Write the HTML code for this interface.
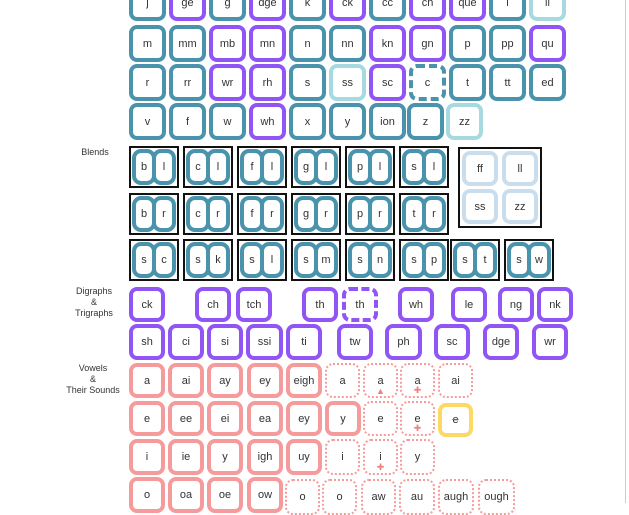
<!DOCTYPE html>
<html><head><meta charset="utf-8"><style>
body{margin:0;width:629px;height:503px;overflow:hidden;background:#fff;position:relative;font-family:"Liberation Sans",sans-serif}
.t{position:absolute;width:37px;height:37px;box-sizing:border-box;border:4px solid #4a93ad;border-radius:8px;display:flex;align-items:center;justify-content:center;font-size:11px;color:#333;background:#fff}
.p{border-color:#9155f5}.l{border-color:#a6d9e0}.d{border-style:dashed}
.k{border-color:#f59b9b}.o{border:2px dotted #f59b9b}.y{border-color:#fdd864}
.b{position:absolute;width:50px;height:42px;box-sizing:border-box;border:2px solid #111;background:#fff}
.b i{position:absolute;top:1px;width:24px;height:36px;box-sizing:border-box;border:4px solid #4a93ad;border-radius:9px;font-style:normal;font-size:11px;color:#333;display:flex;align-items:center;justify-content:center}
.b i:first-child{left:1px}.b i:last-child{left:21px}
.lb{position:absolute;font-size:9px;color:#333;text-align:center;line-height:11px}
.m{position:absolute;left:50%;transform:translateX(-50%);color:#f08080;font-size:9px;bottom:0}
</style></head><body>
<div style="position:absolute;left:625px;top:0;width:1px;height:503px;background:#ccc"></div>
<div class="t" style="left:129px;top:-16px">j</div><div class="t p" style="left:169px;top:-16px">ge</div><div class="t" style="left:209px;top:-16px">g</div><div class="t p" style="left:249px;top:-16px">dge</div><div class="t" style="left:289px;top:-16px">k</div><div class="t p" style="left:329px;top:-16px">ck</div><div class="t" style="left:369px;top:-16px">cc</div><div class="t p" style="left:409px;top:-16px">ch</div><div class="t p" style="left:449px;top:-16px">que</div><div class="t" style="left:489px;top:-16px">l</div><div class="t l" style="left:529px;top:-16px">ll</div>
<div class="t" style="left:129px;top:25px">m</div><div class="t" style="left:169px;top:25px">mm</div><div class="t p" style="left:209px;top:25px">mb</div><div class="t p" style="left:249px;top:25px">mn</div><div class="t" style="left:289px;top:25px">n</div><div class="t" style="left:329px;top:25px">nn</div><div class="t p" style="left:369px;top:25px">kn</div><div class="t p" style="left:409px;top:25px">gn</div><div class="t" style="left:449px;top:25px">p</div><div class="t" style="left:489px;top:25px">pp</div><div class="t p" style="left:529px;top:25px">qu</div>
<div class="t" style="left:129px;top:64px">r</div><div class="t" style="left:169px;top:64px">rr</div><div class="t p" style="left:209px;top:64px">wr</div><div class="t p" style="left:249px;top:64px">rh</div><div class="t" style="left:289px;top:64px">s</div><div class="t l" style="left:329px;top:64px">ss</div><div class="t p" style="left:369px;top:64px">sc</div><div class="t d" style="left:409px;top:64px">c</div><div class="t" style="left:449px;top:64px">t</div><div class="t" style="left:489px;top:64px">tt</div><div class="t" style="left:529px;top:64px">ed</div>
<div class="t" style="left:129px;top:103px">v</div><div class="t" style="left:169px;top:103px">f</div><div class="t" style="left:209px;top:103px">w</div><div class="t p" style="left:249px;top:103px">wh</div><div class="t" style="left:289px;top:103px">x</div><div class="t" style="left:329px;top:103px">y</div><div class="t" style="left:369px;top:103px">ion</div><div class="t" style="left:407px;top:103px">z</div><div class="t l" style="left:446px;top:103px">zz</div>
<div class="lb" style="left:70px;top:147px;width:50px">Blends</div>
<div class="b" style="left:129px;top:146px"><i>b</i><i>l</i></div><div class="b" style="left:183px;top:146px"><i>c</i><i>l</i></div><div class="b" style="left:237px;top:146px"><i>f</i><i>l</i></div><div class="b" style="left:291px;top:146px"><i>g</i><i>l</i></div><div class="b" style="left:345px;top:146px"><i>p</i><i>l</i></div><div class="b" style="left:399px;top:146px"><i>s</i><i>l</i></div>
<div class="b" style="left:129px;top:193px"><i>b</i><i>r</i></div><div class="b" style="left:183px;top:193px"><i>c</i><i>r</i></div><div class="b" style="left:237px;top:193px"><i>f</i><i>r</i></div><div class="b" style="left:291px;top:193px"><i>g</i><i>r</i></div><div class="b" style="left:345px;top:193px"><i>p</i><i>r</i></div><div class="b" style="left:399px;top:193px"><i>t</i><i>r</i></div>
<div class="b" style="left:129px;top:239px"><i>s</i><i>c</i></div><div class="b" style="left:183px;top:239px"><i>s</i><i>k</i></div><div class="b" style="left:237px;top:239px"><i>s</i><i>l</i></div><div class="b" style="left:291px;top:239px"><i>s</i><i>m</i></div><div class="b" style="left:345px;top:239px"><i>s</i><i>n</i></div><div class="b" style="left:399px;top:239px"><i>s</i><i>p</i></div><div class="b" style="left:450px;top:239px"><i>s</i><i>t</i></div><div class="b" style="left:504px;top:239px"><i>s</i><i>w</i></div>
<div style="position:absolute;left:458px;top:147px;width:84px;height:81px;box-sizing:border-box;border:2px solid #111"></div>
<div class="t" style="left:462px;top:151px;width:36px;height:35px;border-color:#c9dded">ff</div><div class="t" style="left:502px;top:151px;width:36px;height:35px;border-color:#c9dded">ll</div>
<div class="t" style="left:462px;top:189px;width:36px;height:35px;border-color:#c9dded">ss</div><div class="t" style="left:502px;top:189px;width:36px;height:35px;border-color:#c9dded">zz</div>
<div class="lb" style="left:62px;top:286px;width:64px">Digraphs<br>&amp;<br>Trigraphs</div>
<div class="t p" style="left:129px;top:287px;width:36px;height:35px">ck</div><div class="t p" style="left:195px;top:287px;width:36px;height:35px">ch</div><div class="t p" style="left:236px;top:287px;width:36px;height:35px">tch</div><div class="t p" style="left:302px;top:287px;width:36px;height:35px">th</div><div class="t p d" style="left:342px;top:287px;width:36px;height:35px">th</div><div class="t p" style="left:398px;top:287px;width:36px;height:35px">wh</div><div class="t p" style="left:451px;top:287px;width:36px;height:35px">le</div><div class="t p" style="left:498px;top:287px;width:36px;height:35px">ng</div><div class="t p" style="left:537px;top:287px;width:36px;height:35px">nk</div>
<div class="t p" style="left:129px;top:324px;width:36px;height:36px">sh</div><div class="t p" style="left:168px;top:324px;width:36px;height:36px">ci</div><div class="t p" style="left:207px;top:324px;width:36px;height:36px">si</div><div class="t p" style="left:246px;top:324px;width:37px;height:36px">ssi</div><div class="t p" style="left:286px;top:324px;width:36px;height:36px">ti</div><div class="t p" style="left:337px;top:324px;width:36px;height:36px">tw</div><div class="t p" style="left:385px;top:324px;width:37px;height:36px">ph</div><div class="t p" style="left:434px;top:324px;width:36px;height:36px">sc</div><div class="t p" style="left:483px;top:324px;width:36px;height:36px">dge</div><div class="t p" style="left:532px;top:324px;width:36px;height:36px">wr</div>
<div class="lb" style="left:55px;top:363px;width:76px">Vowels<br>&amp;<br>Their Sounds</div>
<div class="t k" style="left:129px;top:363px;width:36px;height:35px">a</div><div class="t k" style="left:168px;top:363px;width:36px;height:35px">ai</div><div class="t k" style="left:207px;top:363px;width:36px;height:35px">ay</div><div class="t k" style="left:247px;top:363px;width:36px;height:35px">ey</div><div class="t k" style="left:286px;top:363px;width:36px;height:35px">eigh</div><div class="t o" style="left:325px;top:363px;width:35px;height:35px">a</div><div class="t o" style="left:363px;top:363px;width:35px;height:35px">a<span class="m">▲</span></div><div class="t o" style="left:400px;top:363px;width:35px;height:35px">a<span class="m">✚</span></div><div class="t o" style="left:438px;top:363px;width:35px;height:35px">ai</div>
<div class="t k" style="left:129px;top:401px;width:36px;height:35px">e</div><div class="t k" style="left:168px;top:401px;width:36px;height:35px">ee</div><div class="t k" style="left:207px;top:401px;width:36px;height:35px">ei</div><div class="t k" style="left:247px;top:401px;width:36px;height:35px">ea</div><div class="t k" style="left:286px;top:401px;width:36px;height:35px">ey</div><div class="t k" style="left:325px;top:401px;width:36px;height:35px">y</div><div class="t o" style="left:363px;top:401px;width:35px;height:35px">e</div><div class="t o" style="left:400px;top:401px;width:35px;height:35px">e<span class="m">✚</span></div><div class="t y" style="left:438px;top:403px;width:35px;height:34px"><span style="text-decoration:line-through;text-decoration-color:#e33">e</span></div>
<div class="t k" style="left:129px;top:439px;width:36px;height:36px">i</div><div class="t k" style="left:168px;top:439px;width:36px;height:36px">ie</div><div class="t k" style="left:207px;top:439px;width:36px;height:36px">y</div><div class="t k" style="left:247px;top:439px;width:36px;height:36px">igh</div><div class="t k" style="left:286px;top:439px;width:36px;height:36px">uy</div><div class="t o" style="left:325px;top:439px;width:35px;height:36px">i</div><div class="t o" style="left:363px;top:439px;width:35px;height:36px">i<span class="m">✚</span></div><div class="t o" style="left:400px;top:439px;width:35px;height:36px">y</div>
<div class="t k" style="left:129px;top:477px;width:36px;height:36px">o</div><div class="t k" style="left:168px;top:477px;width:36px;height:36px">oa</div><div class="t k" style="left:207px;top:477px;width:36px;height:36px">oe</div><div class="t k" style="left:247px;top:477px;width:36px;height:36px">ow</div><div class="t o" style="left:285px;top:479px;width:35px;height:36px">o</div><div class="t o" style="left:322px;top:479px;width:35px;height:36px">o</div><div class="t o" style="left:361px;top:479px;width:35px;height:36px">aw</div><div class="t o" style="left:399px;top:479px;width:36px;height:36px">au</div><div class="t o" style="left:438px;top:479px;width:36px;height:36px">augh</div><div class="t o" style="left:478px;top:479px;width:37px;height:36px">ough</div>
</body></html>
